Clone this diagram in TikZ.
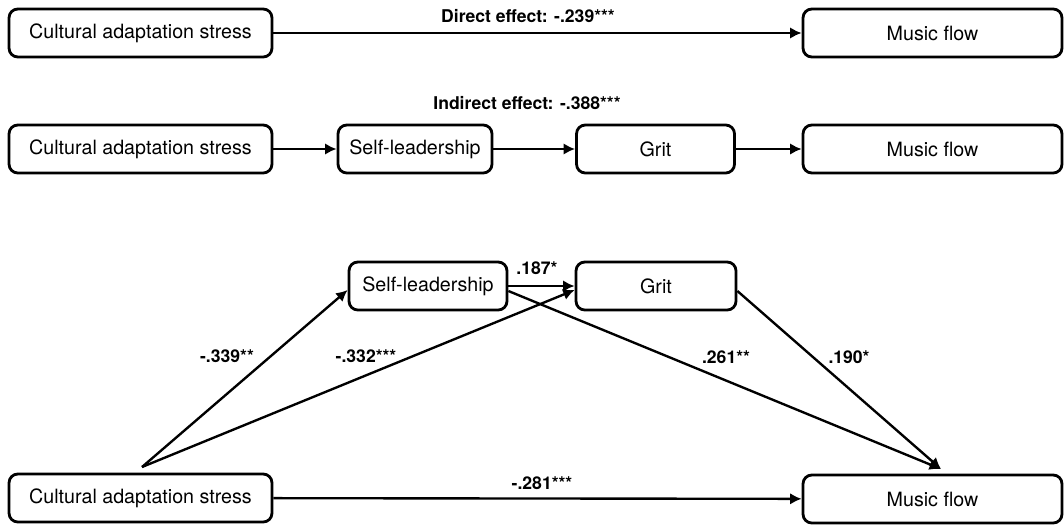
\documentclass[tikz,border=0pt]{standalone}
\usepackage{fontspec}
\setmainfont{TeX Gyre Heros}
\usetikzlibrary{arrows.meta}
\tikzset{
    box/.style = {draw, rounded corners = 5pt, line width = 1.6pt,
        minimum height = .96cm, font = \fontsize{11.2}{13}\selectfont},
    coef/.style = {font = \fontsize{10}{12}\selectfont\bfseries}
}
\begin{document}
\begin{tikzpicture}[
        x = .02cm, y = -.02cm,
        line width = 1.35pt,
        >= {Latex[length = 6.5pt, width = 6.5pt]}
    ]
        \useasboundingbox (0, 0) rectangle (1064, 524);
        % direct effect
        \node[box, minimum width = 5.26cm] (cas1) at (140.5, 33) {Cultural adaptation stress};
        \node[box, minimum width = 5.18cm] (mf1) at (932.5, 33) {Music flow};
        \draw[->] (cas1) -- (mf1);
        \node[coef] (de) at (528, 16) {Direct effect: -.239***};
        % indirect effect
        \node[box, minimum width = 5.26cm] (cas2) at (140.5, 149) {Cultural adaptation stress};
        \node[box, minimum width = 3.08cm] (sl2) at (415, 149) {Self-leadership};
        \node[box, minimum width = 3.16cm] (gr2) at (655.5, 149) {Grit};
        \node[box, minimum width = 5.18cm] (mf2) at (932.5, 149) {Music flow};
        \draw[->] (cas2) -- (sl2);
        \draw[->] (sl2) -- (gr2);
        \draw[->] (gr2) -- (mf2);
        \node[coef] (ie) at (527, 103) {Indirect effect: -.388***};
        % full model
        \node[box, minimum width = 3.16cm] (sl3) at (428, 286) {Self-leadership};
        \node[box, minimum width = 3.2cm] (gr3) at (656, 286) {Grit};
        \node[box, minimum width = 5.26cm] (cas3) at (140.5, 498) {Cultural adaptation stress};
        \node[box, minimum width = 5.18cm] (mf3) at (932.5, 499) {Music flow};
        \coordinate (src) at (142, 467);
        \coordinate (sink) at (941, 469);
        \draw[->] (src) -- ([yshift = -.08cm] sl3.west);
        \draw[->] (src) -- ([yshift = -.08cm] gr3.west);
        \draw[->] (sl3.east) -- (gr3.west);
        \draw[->] ([yshift = -.1cm] sl3.east) -- (sink);
        \draw[->] ([yshift = -.1cm] gr3.east) -- (sink);
        \draw[->] (cas3) -- (mf3);
        \node[coef] (c1) at (227, 356) {-.339**};
        \node[coef] (c2) at (366, 356) {-.332***};
        \node[coef] (c3) at (537, 268) {.187*};
        \node[coef] (c4) at (726, 357) {.261**};
        \node[coef] (c5) at (849, 357) {.190*};
        \node[coef] (c6) at (542, 483) {-.281***};
    \end{tikzpicture}
\end{document}
